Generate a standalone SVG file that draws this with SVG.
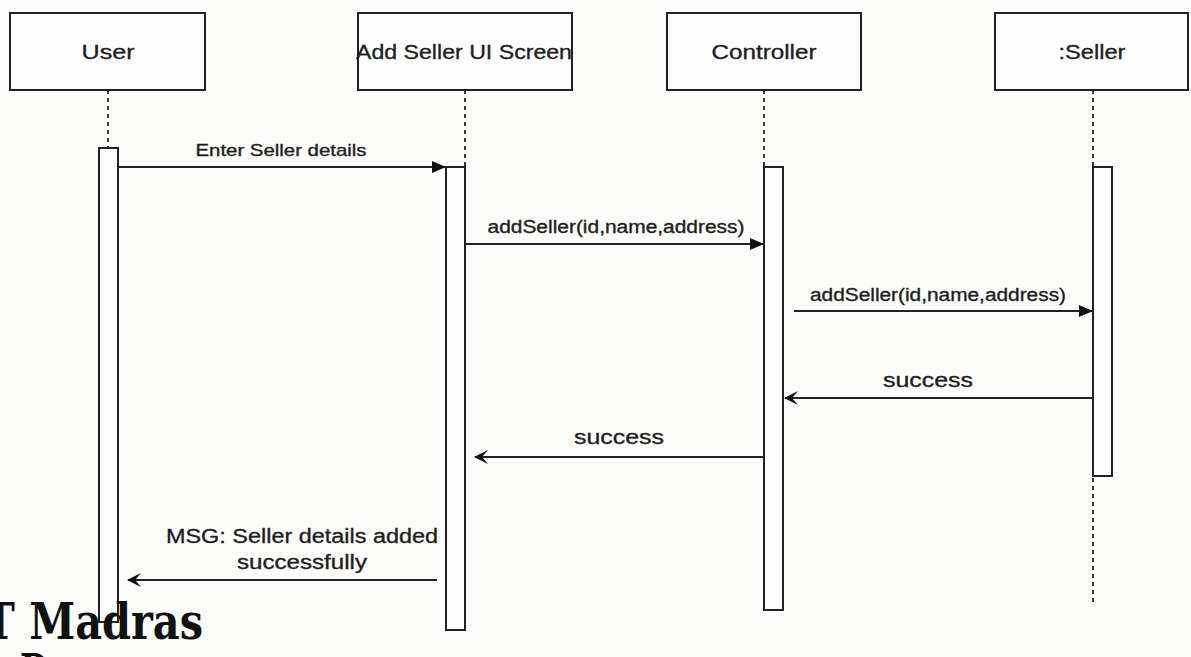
<svg xmlns="http://www.w3.org/2000/svg" width="1191" height="657" viewBox="0 0 1191 657">
<style>
.box{fill:#fefefe;stroke:#222;stroke-width:2}
.act{fill:#fefefe;stroke:#222;stroke-width:2}
.life{stroke:#222;stroke-width:1.8;stroke-dasharray:4 4;fill:none}
.msg{stroke:#222;stroke-width:2;fill:none}
.lbl{font-family:"Liberation Sans",Arial,sans-serif;fill:#1e1e1e;text-anchor:middle;stroke:#1e1e1e;stroke-width:0.35}
.wm{font-family:"DejaVu Serif","Liberation Serif",serif;font-weight:bold;fill:#111}
</style>
<defs>
<marker id="block" viewBox="0 0 14 12" refX="14" refY="6" markerWidth="14" markerHeight="12" markerUnits="userSpaceOnUse" orient="auto">
<path d="M0,0 L14,6 L0,12 Z" fill="#111"/>
</marker>
<marker id="open" viewBox="0 0 16 16" refX="14" refY="8" markerWidth="16" markerHeight="16" markerUnits="userSpaceOnUse" orient="auto">
<path d="M1,1 L15,8 L1,15 L7,8 Z" fill="#111"/>
</marker>
</defs>
<rect width="1191" height="657" fill="#fcfcfa"/>

<g id="user">
<rect class="box" x="10" y="13" width="195" height="77"/>
<text class="lbl" x="108" y="59" font-size="21" textLength="53" lengthAdjust="spacingAndGlyphs">User</text>
<line class="life" x1="108" y1="90" x2="108" y2="148"/>
<rect class="act" x="99" y="148" width="19" height="474"/>
</g>

<g id="ui">
<rect class="box" x="358" y="13" width="214" height="77"/>
<text class="lbl" x="464" y="59" font-size="21" textLength="216" lengthAdjust="spacingAndGlyphs">Add Seller UI Screen</text>
<line class="life" x1="465" y1="90" x2="465" y2="167"/>
<rect class="act" x="446" y="167" width="19" height="463"/>
</g>

<g id="controller">
<rect class="box" x="667" y="13" width="194" height="77"/>
<text class="lbl" x="764" y="59" font-size="21" textLength="105" lengthAdjust="spacingAndGlyphs">Controller</text>
<line class="life" x1="764" y1="90" x2="764" y2="167"/>
<rect class="act" x="764" y="167" width="19" height="443"/>
</g>

<g id="seller">
<rect class="box" x="995" y="13" width="193" height="77"/>
<text class="lbl" x="1092" y="59" font-size="21" textLength="67" lengthAdjust="spacingAndGlyphs">:Seller</text>
<line class="life" x1="1093" y1="90" x2="1093" y2="167"/>
<rect class="act" x="1093" y="167" width="19" height="309"/>
<line class="life" x1="1093" y1="478" x2="1093" y2="605"/>
</g>

<g id="connectors">
<line class="msg" x1="118" y1="167" x2="446" y2="167" marker-end="url(#block)"/>
<text class="lbl" x="281" y="156" font-size="17" textLength="171" lengthAdjust="spacingAndGlyphs">Enter Seller details</text>

<line class="msg" x1="465" y1="244" x2="764" y2="244" marker-end="url(#block)"/>
<text class="lbl" x="616" y="233" font-size="18" textLength="257" lengthAdjust="spacingAndGlyphs">addSeller(id,name,address)</text>

<line class="msg" x1="794" y1="311" x2="1093" y2="311" marker-end="url(#block)"/>
<text class="lbl" x="938" y="301" font-size="18" textLength="256" lengthAdjust="spacingAndGlyphs">addSeller(id,name,address)</text>

<line class="msg" x1="1093" y1="398" x2="785" y2="398" marker-end="url(#open)"/>
<text class="lbl" x="928" y="387" font-size="21" textLength="90" lengthAdjust="spacingAndGlyphs">success</text>

<line class="msg" x1="764" y1="457" x2="475" y2="457" marker-end="url(#open)"/>
<text class="lbl" x="619" y="444" font-size="21" textLength="90" lengthAdjust="spacingAndGlyphs">success</text>

<line class="msg" x1="437" y1="580" x2="128" y2="580" marker-end="url(#open)"/>
<text class="lbl" x="302" y="543" font-size="20" textLength="272" lengthAdjust="spacingAndGlyphs">MSG: Seller details added</text>
<text class="lbl" x="302" y="569" font-size="20" textLength="130" lengthAdjust="spacingAndGlyphs">successfully</text>
</g>

<text class="wm" x="-16" y="639" font-size="50" textLength="219" lengthAdjust="spacingAndGlyphs">T Madras</text>
<text class="wm" x="20" y="690" font-size="50" textLength="135" lengthAdjust="spacingAndGlyphs">Degree</text>
</svg>
